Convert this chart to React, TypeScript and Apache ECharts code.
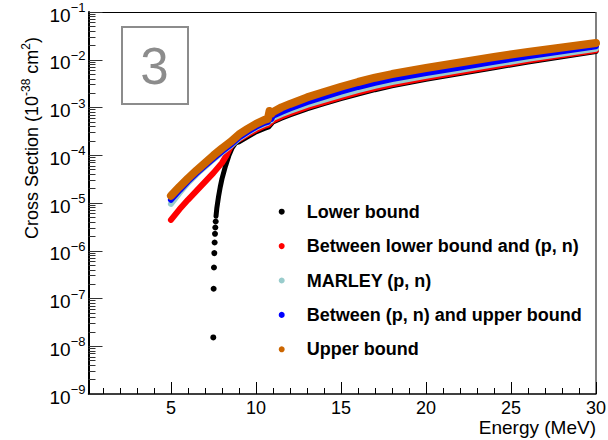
import React, { useEffect, useRef } from "react";
import * as echarts from "echarts";

const FONT = "'Liberation Sans', Arial, Helvetica, sans-serif";

// axis furniture
const xTickLabels = [5, 10, 15, 20, 25, 30];
const xMinorTicks = [1, 2, 3, 4, 6, 7, 8, 9, 11, 12, 13, 14, 16, 17, 18, 19, 21, 22, 23, 24, 26, 27, 28, 29];
const yDecadeExponents = [-9, -8, -7, -6, -5, -4, -3, -2];
const yMinorMultipliers = [2, 3, 4, 5, 6, 7, 8, 9];

// Upper bound / Between (p,n) and upper / MARLEY (p,n) share one energy grid
const bandEnergy = [5, 5.5, 6, 6.5, 7, 7.5, 8, 8.5, 9, 9.5, 10, 10.5, 10.7, 10.8, 10.9, 11, 11.5, 12, 13, 14, 15, 16, 17, 18, 20, 22, 24, 26, 28, 30];
const upperValues = [1.413e-5, 2.178e-5, 3.281e-5, 4.82e-5, 6.92e-5, 9.93e-5, 1.393e-4, 1.905e-4, 2.735e-4, 3.565e-4, 4.53e-4, 5.5e-4, 5.77e-4, 8.47e-4, 7.35e-4, 8.08e-4, 1.005e-3, 1.189e-3, 1.626e-3, 2.118e-3, 2.72e-3, 3.42e-3, 4.2e-3, 5.02e-3, 6.73e-3, 8.77e-3, 1.144e-2, 1.455e-2, 1.807e-2, 2.245e-2];
const pnUpperValues = [1.164e-5, 1.841e-5, 2.838e-5, 4.18e-5, 6.0e-5, 8.6e-5, 1.205e-4, 1.648e-4, 2.366e-4, 3.083e-4, 3.926e-4, 4.757e-4, 4.99e-4, 6.35e-4, 5.77e-4, 6.67e-4, 8.08e-4, 9.52e-4, 1.29e-3, 1.673e-3, 2.14e-3, 2.69e-3, 3.3e-3, 3.94e-3, 5.29e-3, 6.9e-3, 9.08e-3, 1.178e-2, 1.498e-2, 1.916e-2];
const marleyValues = [9.6e-6, 1.632e-5, 2.642e-5, 3.981e-5, 5.71e-5, 8.2e-5, 1.148e-4, 1.57e-4, 2.254e-4, 2.938e-4, 3.739e-4, 4.53e-4, 4.757e-4, 5.24e-4, 5.365e-4, 6.05e-4, 7.236e-4, 8.47e-4, 1.132e-3, 1.441e-3, 1.84e-3, 2.3e-3, 2.83e-3, 3.4e-3, 4.624e-3, 6.085e-3, 8.007e-3, 1.044e-2, 1.335e-2, 1.706e-2];

// Between lower bound and (p, n)
const lowerPnEnergy = [5, 5.5, 6, 6.5, 7, 7.5, 8, 8.25, 8.5, 8.75, 9, 9.5, 10, 10.5, 10.75, 11, 11.5, 12, 13, 14, 15, 16, 17, 18, 20, 22, 24, 26, 28, 30];
const lowerPnValues = [4.443e-6, 7.37e-6, 1.164e-5, 1.797e-5, 2.773e-5, 4.276e-5, 6.92e-5, 9.7e-5, 1.496e-4, 1.951e-4, 2.148e-4, 2.735e-4, 3.396e-4, 4.116e-4, 4.426e-4, 5.365e-4, 6.507e-4, 7.63e-4, 1.019e-3, 1.302e-3, 1.65e-3, 2.07e-3, 2.55e-3, 3.07e-3, 4.199e-3, 5.526e-3, 7.31e-3, 9.62e-3, 1.236e-2, 1.587e-2];

// Lower bound: sparse points near threshold, then dense curve
const lowerDotEnergy = [7.49, 7.51, 7.53, 7.55, 7.57, 7.59, 7.61, 7.63];
const lowerDotValues = [1.531e-8, 1.6e-7, 4.46e-7, 8.93e-7, 1.488e-6, 2.262e-6, 3.065e-6, 4.093e-6];
const lowerEnergy = [7.65, 7.7, 7.8, 7.9, 8.0, 8.2, 8.4, 8.6, 8.8, 9, 9.5, 10, 10.5, 10.75, 11, 11.5, 12, 13, 14, 15, 16, 17, 18, 20, 22, 24, 26, 28, 30];
const lowerValues = [5.258e-6, 7.92e-6, 1.378e-5, 2.178e-5, 3.203e-5, 5.85e-5, 9.7e-5, 1.427e-4, 1.815e-4, 1.905e-4, 2.423e-4, 3.083e-4, 3.649e-4, 3.926e-4, 4.99e-4, 5.995e-4, 7.03e-4, 9.385e-4, 1.2e-3, 1.53e-3, 1.92e-3, 2.36e-3, 2.84e-3, 3.887e-3, 5.116e-3, 6.8e-3, 8.945e-3, 1.155e-2, 1.491e-2];

const names = [
  "Lower bound",
  "Between lower bound and (p, n)",
  "MARLEY (p, n)",
  "Between (p, n) and upper bound",
  "Upper bound",
];

const zip = (xs: number[], ys: number[]) => xs.map((x, i) => [x, ys[i]]);

const GL = 88.5;
const GR = 596;
const GT = 12;
const GB = 394;

function lineSeries(name: string, data: number[][], color: string, width: number) {
  return {
    name,
    type: "line",
    data,
    showSymbol: false,
    symbol: "none",
    smooth: false,
    color,
    itemStyle: { color, opacity: 1 },
    lineStyle: { color, width, cap: "round", join: "round", opacity: 1 },
    silent: true,
    emphasis: { disabled: true },
  };
}

export default function App() {
  const ref = useRef<HTMLDivElement>(null);
  useEffect(() => {
    const chart = echarts.init(ref.current!, undefined, { renderer: "svg" });
    const yMinor: number[] = [];
    yDecadeExponents.forEach((n) => yMinorMultipliers.forEach((k) => yMinor.push(n + Math.log10(k))));

    const option: any = {
      animation: false,
      backgroundColor: "#fff",
      grid: { left: GL, right: 608 - GR, top: GT, bottom: 440 - GB, outerBoundsMode: "none" },
      xAxis: [
        {
          type: "value",
          min: 0.15,
          max: 30,
          axisLine: { show: true, onZero: false, lineStyle: { color: "#000", width: 1.5 } },
          axisTick: { show: true, inside: true, length: 12, customValues: xTickLabels, lineStyle: { color: "#000", width: 1 } },
          axisLabel: {
            show: true,
            customValues: xTickLabels,
            margin: 6,
            fontSize: 18,
            lineHeight: 15,
            fontFamily: FONT,
            color: "#000",
          },
          splitLine: { show: false },
        },
        {
          type: "value",
          min: 0.15,
          max: 30,
          position: "bottom",
          axisLine: { show: false },
          axisTick: { show: true, inside: true, length: 6, customValues: xMinorTicks, lineStyle: { color: "#000", width: 1 } },
          axisLabel: { show: false },
          splitLine: { show: false },
        },
      ],
      yAxis: [
        {
          type: "log",
          logBase: 10,
          min: 1e-9,
          max: 1e-1,
          splitNumber: 8,
          axisLine: { show: true, onZero: false, lineStyle: { color: "#000", width: 2 } },
          axisTick: { show: true, inside: true, length: 14, lineStyle: { color: "#333", width: 1 } },
          axisLabel: {
            show: true,
            interval: 0,
            showMinLabel: true,
            showMaxLabel: true,
            hideOverlap: false,
            margin: 3,
            padding: [6, 0, 0, 0],
            formatter: (v: number) => {
              const e = Math.round(Math.log10(v));
              return `{b|10}{s|\u2212${-e}}`;
            },
            rich: {
              b: { fontSize: 19, lineHeight: 28, fontFamily: FONT, color: "#000" },
              s: { fontSize: 13, verticalAlign: "top", fontFamily: FONT, color: "#000" },
            },
          },
          splitLine: { show: false },
        },
        {
          type: "value",
          min: -9,
          max: -1,
          position: "left",
          axisLine: { show: false },
          axisTick: { show: true, inside: true, length: 7, customValues: yMinor, lineStyle: { color: "#333", width: 1 } },
          axisLabel: { show: false },
          splitLine: { show: false },
        },
      ],
      legend: {
        orient: "vertical",
        left: 278.7,
        top: 201.7,
        padding: 0,
        itemGap: 14.4,
        itemWidth: 6,
        itemHeight: 6,
        icon: "circle",
        selectedMode: false,
        data: names,
        itemStyle: { opacity: 1 },
        textStyle: {
          fontSize: 18,
          fontWeight: "bold",
          fontFamily: FONT,
          color: "#000",
          lineHeight: 20,
          padding: [0, 0, 0, 17],
        },
      },
      graphic: [
        { type: "line", shape: { x1: GL, y1: GT + 0.5, x2: GR, y2: GT + 0.5 }, style: { stroke: "#000", lineWidth: 1 }, silent: true },
        { type: "line", shape: { x1: GR, y1: GT, x2: GR, y2: GB }, style: { stroke: "#555", lineWidth: 1.5 }, silent: true },
        {
          type: "rect",
          shape: { x: 122, y: 27, width: 66, height: 77 },
          style: { fill: "#fff", stroke: "#8c8c8c", lineWidth: 2 },
          silent: true,
        },
        {
          type: "text",
          x: 154.5,
          y: 66,
          style: { text: "3", align: "center", verticalAlign: "middle", fontSize: 51, fontFamily: FONT, fill: "#8c8c8c" },
          silent: true,
        },
        {
          type: "text",
          x: 32,
          y: 138,
          rotation: Math.PI / 2,
          style: {
            text: "{a|Cross Section (10}{s|-38}{a| cm}{s|2}{a|)}",
            align: "center",
            verticalAlign: "middle",
            rich: {
              a: { fontSize: 18, lineHeight: 24, fontFamily: FONT, fill: "#000" },
              s: { fontSize: 12, verticalAlign: "top", fontFamily: FONT, fill: "#000" },
            },
          },
          silent: true,
        },
        {
          type: "text",
          x: 596,
          y: 427,
          style: { text: "Energy (MeV)", align: "right", verticalAlign: "middle", fontSize: 19, lineHeight: 15, fontFamily: FONT, fill: "#000" },
          silent: true,
        },
      ],
      series: [
        {
          name: names[0],
          type: "scatter",
          data: zip(lowerDotEnergy, lowerDotValues),
          symbol: "circle",
          symbolSize: 6,
          color: "#000",
          itemStyle: { color: "#000", opacity: 1 },
          silent: true,
          emphasis: { disabled: true },
        },
        lineSeries(names[0], zip(lowerEnergy, lowerValues), "#000", 5),
        lineSeries(names[1], zip(lowerPnEnergy, lowerPnValues), "#ff0000", 6),
        lineSeries(names[2], zip(bandEnergy, marleyValues), "#99cccc", 6),
        lineSeries(names[3], zip(bandEnergy, pnUpperValues), "#0000ff", 6),
        lineSeries(names[4], zip(bandEnergy, upperValues), "#cc6600", 8),
      ],
    };
    chart.setOption(option);
    return () => chart.dispose();
  }, []);
  return <div ref={ref} style={{ position: "fixed", left: 0, top: 0, width: 608, height: 440 }} />;
}
